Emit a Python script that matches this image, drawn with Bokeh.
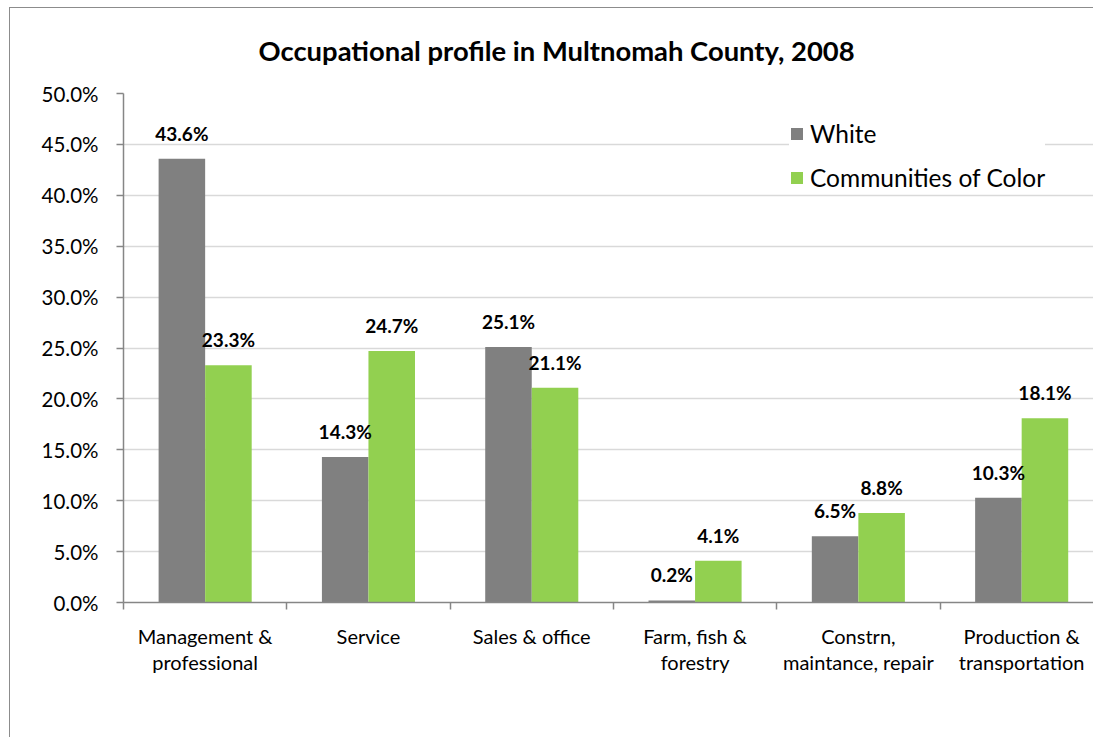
from bokeh.plotting import figure
from bokeh.models import FixedTicker, Legend, LegendItem, ColumnDataSource, Range1d
from bokeh.core.properties import value
from bokeh.embed import file_html
from bokeh.resources import INLINE

categories = ["Management &\nprofessional", "Service", "Sales & office",
              "Farm, fish &\nforestry", "Constrn,\nmaintance, repair",
              "Production &\ntransportation"]
white = [43.6, 14.3, 25.1, 0.2, 6.5, 10.3]
color = [23.3, 24.7, 21.1, 4.1, 8.8, 18.1]
y_ticks = [0, 5, 10, 15, 20, 25, 30, 35, 40, 45, 50]
series_names = ["White", "Communities of Color"]
title_text = "Occupational profile in Multnomah County, 2008"

FONT = "Lato"
GRAY = "#808080"
GREEN = "#92D050"
BW = 0.285

centers = [i + 0.5 for i in range(len(categories))]
src_w = ColumnDataSource(dict(x=[c - BW / 2 for c in centers], top=white,
                              lab=[f"{v:.1f}%" for v in white]))
src_c = ColumnDataSource(dict(x=[c + BW / 2 for c in centers], top=color,
                              lab=[f"{v:.1f}%" for v in color]))

p = figure(width=1084, height=730, output_backend="svg", toolbar_location=None,
           x_range=Range1d(0, 5.946), y_range=Range1d(0, 50),
           min_border_left=113, min_border_top=85, min_border_bottom=136,
           min_border_right=0)
p.styles = {"margin-left": "9px", "margin-top": "7px",
            "border-left": "1px solid #8c8c8c", "border-top": "1px solid #8c8c8c"}
p.outline_line_color = None
p.background_fill_color = "white"
p.border_fill_color = "white"

p.title.text = title_text
p.title.align = "left"
p.title.vertical_align = "top"
p.title.offset = 135
p.title.standoff = 50
p.title.text_font = FONT
p.title.text_font_style = "bold"
p.title.text_font_size = "27.4px"
p.title.text_color = "black"

r1 = p.vbar(x="x", top="top", width=BW, source=src_w, fill_color=GRAY, line_color=None)
r2 = p.vbar(x="x", top="top", width=BW, source=src_c, fill_color=GREEN, line_color=None)

for src in (src_w, src_c):
    p.text(x="x", y="top", text="lab", source=src, text_align="center",
           text_baseline="bottom", y_offset=-14, text_font=value(FONT),
           text_font_style="bold", text_font_size="19px", text_color="black")

# axes
p.xgrid.visible = False
p.ygrid.grid_line_color = "#D9D9D9"
p.ygrid.grid_line_width = 1.5

p.yaxis.ticker = FixedTicker(ticks=y_ticks)
p.yaxis.major_label_overrides = {t: f"{t:.1f}%" for t in y_ticks}
p.yaxis.major_label_text_font = FONT
p.yaxis.major_label_text_font_size = "20.5px"
p.yaxis.major_label_text_color = "black"
p.yaxis.axis_line_color = "#868686"
p.yaxis.axis_line_width = 1.5
p.yaxis.major_tick_line_color = "#868686"
p.yaxis.major_tick_line_width = 1.5
p.yaxis.major_tick_out = 7
p.yaxis.major_tick_in = 0
p.yaxis.minor_tick_line_color = None
p.yaxis.major_label_standoff = 18

p.xaxis.ticker = FixedTicker(ticks=centers, minor_ticks=list(range(len(categories) + 1)))
p.xaxis.major_label_overrides = {c: lab for c, lab in zip(centers, categories)}
p.xaxis.major_label_text_font = FONT
p.xaxis.major_label_text_font_size = "20px"
p.xaxis.major_label_text_color = "black"
p.xaxis.major_label_text_line_height = 1.1
p.xaxis.major_tick_line_color = None
p.xaxis.minor_tick_line_color = "#868686"
p.xaxis.minor_tick_line_width = 1.5
p.xaxis.minor_tick_out = 7
p.xaxis.minor_tick_in = 0
p.xaxis.axis_line_color = "#868686"
p.xaxis.axis_line_width = 1.5
p.xaxis.major_label_standoff = 14

legend = Legend(items=[LegendItem(label=series_names[0], renderers=[r1]),
                       LegendItem(label=series_names[1], renderers=[r2])],
                location=(666, 410), label_text_font=FONT,
                label_text_font_size="24.5px", label_text_color="black",
                glyph_width=15, glyph_height=15,
                label_height=23, spacing=15, padding=13, margin=0,
                label_standoff=6, border_line_color=None,
                background_fill_color="white", background_fill_alpha=1.0)
p.add_layout(legend)

open("out.html", "w").write(file_html(p, INLINE))
